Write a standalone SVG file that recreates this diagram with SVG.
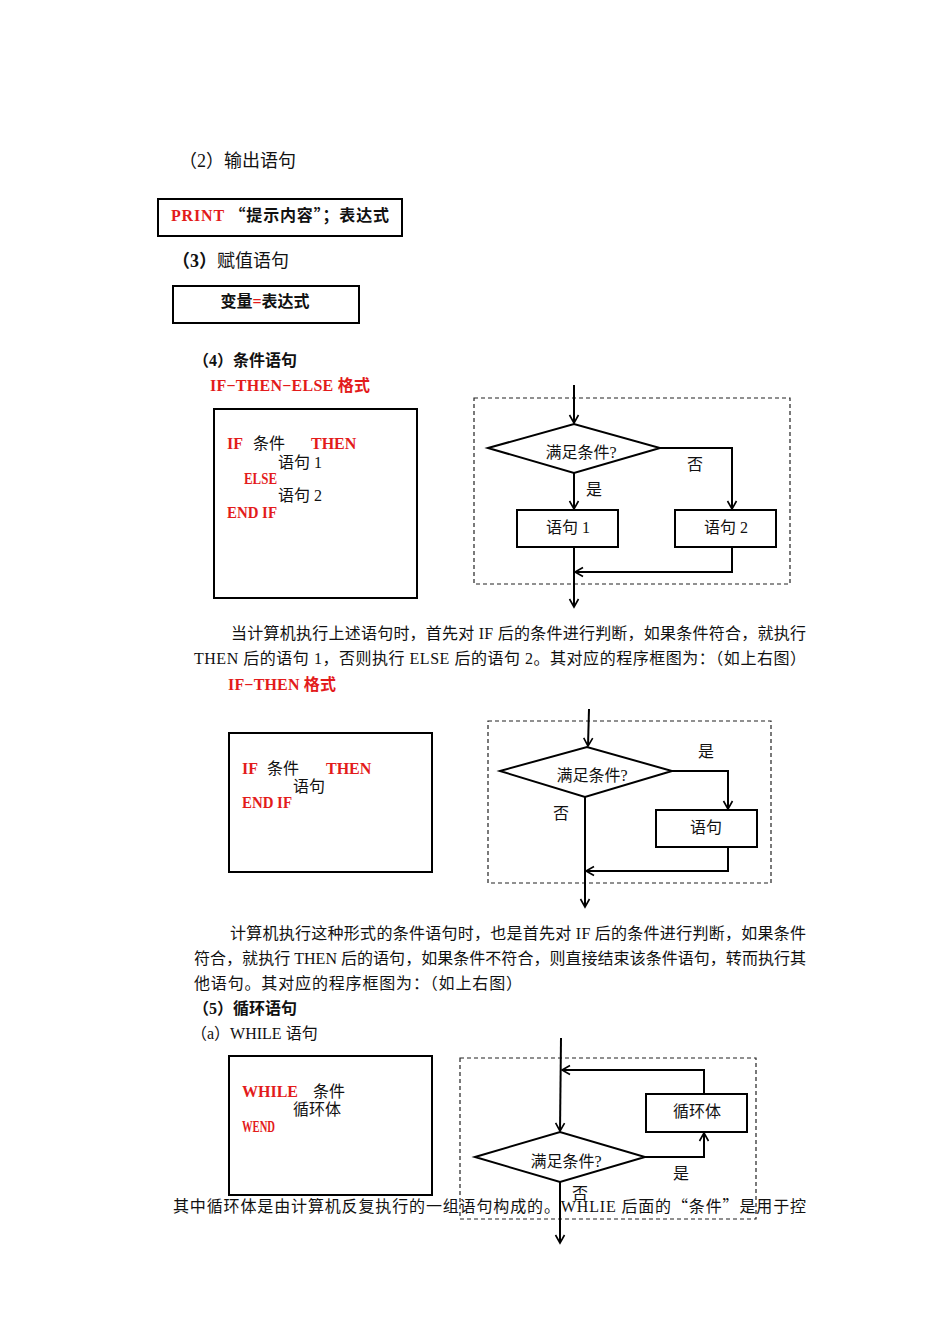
<svg xmlns="http://www.w3.org/2000/svg" width="950" height="1344" viewBox="0 0 950 1344">
<style>
.t{font-family:"Liberation Serif","Noto Sans CJK SC",serif;font-size:16px;fill:#111}
.h{font-family:"Liberation Serif","Noto Sans CJK SC",serif;font-size:18px;fill:#111}
.b{font-family:"Liberation Serif","Noto Sans CJK SC",serif;font-size:16px;font-weight:bold;fill:#111}
.q{font-family:"Noto Sans CJK SC",sans-serif}
.r{fill:#e31b1b}
.c{font-family:"Liberation Serif","Noto Sans CJK SC",serif;font-size:16px;font-weight:bold;fill:#e31b1b}
.box{fill:#fff;stroke:#000;stroke-width:2}
.dash{fill:none;stroke:#222;stroke-width:1.2;stroke-dasharray:4 3}
.ln{fill:none;stroke:#000;stroke-width:2}
</style>
<defs>
<marker id="a" markerUnits="userSpaceOnUse" viewBox="-10 -6 12 12" markerWidth="12" markerHeight="12" refX="0" refY="0" orient="auto">
<path d="M-8,-4.5 L0,0 L-8,4.5" fill="none" stroke="#000" stroke-width="1.6"/>
</marker>
</defs>
<rect width="950" height="1344" fill="#fff"/>

<text class="h" x="179" y="167">（2）输出语句</text>
<g id="print-box">
<rect class="box" x="158" y="199" width="244" height="37"/>
<text class="b" x="171" y="221" textLength="218" lengthAdjust="spacing"><tspan class="r">PRINT</tspan> <tspan class="q">“</tspan>提示内容<tspan class="q">”</tspan>；表达式</text>
</g>
<text class="h" x="172" y="267"><tspan font-weight="bold">（3）</tspan>赋值语句</text>
<g id="assign-box">
<rect class="box" x="173" y="286" width="186" height="37"/>
<text class="b" x="265" y="307" text-anchor="middle">变量<tspan class="r">=</tspan>表达式</text>
</g>

<text class="b" x="193" y="366">（4）条件语句</text>
<text class="c" x="210" y="391" textLength="160" lengthAdjust="spacing">IF−THEN−ELSE 格式</text>

<g id="code-ifelse">
<rect class="box" x="214" y="409" width="203" height="189"/>
<text class="c" x="227" y="449">IF</text>
<text class="t" x="253" y="449">条件</text>
<text class="c" x="311" y="449">THEN</text>
<text class="t" x="278" y="468">语句 1</text>
<text class="c" x="244" y="484" textLength="33" lengthAdjust="spacingAndGlyphs">ELSE</text>
<text class="t" x="278" y="501">语句 2</text>
<text class="c" x="227" y="518" textLength="50" lengthAdjust="spacingAndGlyphs">END IF</text>
</g>

<g id="flow1">
<rect class="dash" x="474" y="398" width="316" height="186"/>
<g id="f1-diamond">
<polygon class="box" points="488,448 574,424 660,448 574,473"/>
<text class="t" x="581" y="458" text-anchor="middle">满足条件?</text>
</g>
<g id="f1-s1"><rect class="box" x="517" y="510" width="101" height="37"/><text class="t" x="568" y="533" text-anchor="middle">语句 1</text></g>
<g id="f1-s2"><rect class="box" x="675" y="510" width="101" height="37"/><text class="t" x="726" y="533" text-anchor="middle">语句 2</text></g>
<g id="f1-conn">
<line class="ln" x1="574" y1="385" x2="574" y2="423" marker-end="url(#a)"/>
<line class="ln" x1="574" y1="473" x2="574" y2="509" marker-end="url(#a)"/>
<polyline class="ln" points="660,448 732,448 732,509" marker-end="url(#a)"/>
<polyline class="ln" points="732,547 732,572 575,572" marker-end="url(#a)"/>
<line class="ln" x1="574" y1="547" x2="574" y2="607" marker-end="url(#a)"/>
<text class="t" x="695" y="470" text-anchor="middle">否</text>
<text class="t" x="594" y="495" text-anchor="middle">是</text>
</g>
</g>

<text class="t" x="231" y="639" textLength="575" lengthAdjust="spacing">当计算机执行上述语句时，首先对 IF 后的条件进行判断，如果条件符合，就执行</text>
<text class="t" x="194" y="664" textLength="612" lengthAdjust="spacing">THEN 后的语句 1，否则执行 ELSE 后的语句 2。其对应的程序框图为：（如上右图）</text>
<text class="c" x="228" y="690" textLength="108" lengthAdjust="spacing">IF−THEN 格式</text>

<g id="code-ifthen">
<rect class="box" x="229" y="733" width="203" height="139"/>
<text class="c" x="242" y="774">IF</text>
<text class="t" x="267" y="774">条件</text>
<text class="c" x="326" y="774">THEN</text>
<text class="t" x="293" y="792">语句</text>
<text class="c" x="242" y="808" textLength="50" lengthAdjust="spacingAndGlyphs">END IF</text>
</g>

<g id="flow2">
<rect class="dash" x="488" y="721" width="283" height="162"/>
<g id="f2-diamond">
<polygon class="box" points="500,771 587,747 672,771 585,797"/>
<text class="t" x="592" y="781" text-anchor="middle">满足条件?</text>
</g>
<g id="f2-s"><rect class="box" x="656" y="810" width="101" height="37"/><text class="t" x="706" y="833" text-anchor="middle">语句</text></g>
<g id="f2-conn">
<line class="ln" x1="589" y1="709" x2="588" y2="746" marker-end="url(#a)"/>
<polyline class="ln" points="672,771 728,771 728,809" marker-end="url(#a)"/>
<polyline class="ln" points="728,847 728,871 586,871" marker-end="url(#a)"/>
<line class="ln" x1="585" y1="797" x2="585" y2="907" marker-end="url(#a)"/>
<text class="t" x="706" y="757" text-anchor="middle">是</text>
<text class="t" x="561" y="819" text-anchor="middle">否</text>
</g>
</g>

<text class="t" x="230" y="939" textLength="576" lengthAdjust="spacing">计算机执行这种形式的条件语句时，也是首先对 IF 后的条件进行判断，如果条件</text>
<text class="t" x="194" y="964" textLength="612" lengthAdjust="spacing">符合，就执行 THEN 后的语句，如果条件不符合，则直接结束该条件语句，转而执行其</text>
<text class="t" x="194" y="989" textLength="328" lengthAdjust="spacing">他语句。其对应的程序框图为：（如上右图）</text>
<text class="b" x="193" y="1014">（5）循环语句</text>
<text class="t" x="191" y="1039">（a）WHILE 语句</text>

<g id="code-while">
<rect class="box" x="229" y="1056" width="203" height="139"/>
<text class="c" x="242" y="1097">WHILE</text>
<text class="t" x="313" y="1097">条件</text>
<text class="t" x="293" y="1115">循环体</text>
<text class="c" x="242" y="1132" textLength="33" lengthAdjust="spacingAndGlyphs">WEND</text>
</g>

<g id="flow3">
<rect class="dash" x="460" y="1058" width="296" height="161"/>
<g id="f3-diamond">
<polygon class="box" points="475,1157 560,1132 645,1157 560,1182"/>
<text class="t" x="566" y="1167" text-anchor="middle">满足条件?</text>
</g>
<g id="f3-body"><rect class="box" x="646" y="1094" width="101" height="38"/><text class="t" x="697" y="1117" text-anchor="middle">循环体</text></g>
<g id="f3-conn">
<line class="ln" x1="561" y1="1038" x2="560" y2="1131" marker-end="url(#a)"/>
<polyline class="ln" points="645,1157 704,1157 704,1133" marker-end="url(#a)"/>
<polyline class="ln" points="704,1094 704,1070 562,1070" marker-end="url(#a)"/>
<line class="ln" x1="560" y1="1182" x2="560" y2="1243" marker-end="url(#a)"/>
<text class="t" x="681" y="1179" text-anchor="middle">是</text>
<text class="t" x="580" y="1199" text-anchor="middle">否</text>
</g>
</g>

<text class="t" x="173" y="1212" textLength="633" lengthAdjust="spacing">其中循环体是由计算机反复执行的一组语句构成的。WHLIE 后面的<tspan class="q">“</tspan>条件<tspan class="q">”</tspan>是用于控</text>
</svg>
